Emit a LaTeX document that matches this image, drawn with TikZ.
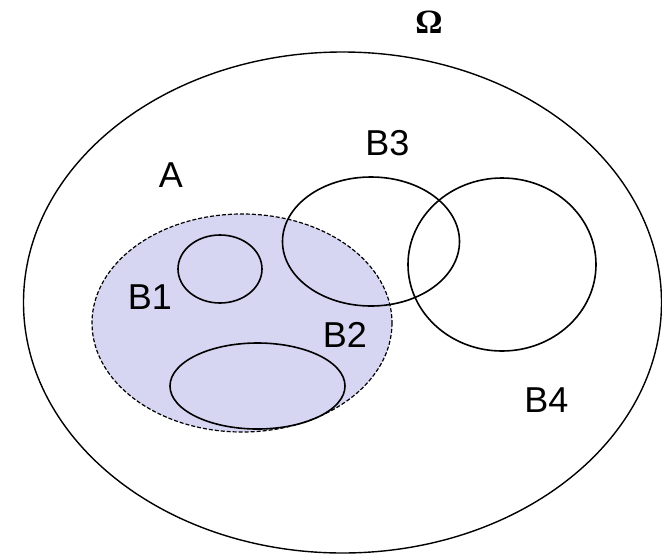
\documentclass[tikz,border=0pt]{standalone}
\usepackage{fontspec}
\setmainfont{Liberation Sans}
\newfontfamily\omegafont{Liberation Serif}
\usepackage{tikz}
\usetikzlibrary{positioning}
\definecolor{setfill}{RGB}{214,214,243}
\tikzset{
  setlabel/.style={anchor=base, inner sep=0pt, font=\fontsize{36}{40}\selectfont},
  setline/.style={line width=1.6pt}
}

\begin{document}
\begin{tikzpicture}[x=1pt, y=-1pt]
  \useasboundingbox (0,0) rectangle (662,555);
  % universe
  \draw[line width=1.4pt] (342.5,302.5) ellipse (319 and 250.5);
  \node[anchor=base, inner sep=0pt, font=\omegafont\bfseries\fontsize{34}{38}\selectfont] (omega) at (429,33) {Ω};
  % the set A
  \draw[fill=setfill, line width=1.2pt, dash pattern=on 4pt off 2pt] (242,323) ellipse (150 and 109);
  \node[setlabel] (a) at (171,187) {A};
  % B1 and B2 inside A
  \draw[setline] (220,269) ellipse (42 and 34);
  \draw[setline] (257.5,386) ellipse (87.5 and 43);
  \node[setlabel] (b1) at (150,309) {B1};
  \node[setlabel] (b2) at (345,347) {B2};
  % B3 and B4
  \draw[setline] (371,241.5) ellipse (88.5 and 64.5);
  \draw[setline] (502,264.5) ellipse (94 and 86.5);
  \node[setlabel] (b3) at (387.5,155) {B3};
  \node[setlabel] (b4) at (546.5,412) {B4};
\end{tikzpicture}
\end{document}
